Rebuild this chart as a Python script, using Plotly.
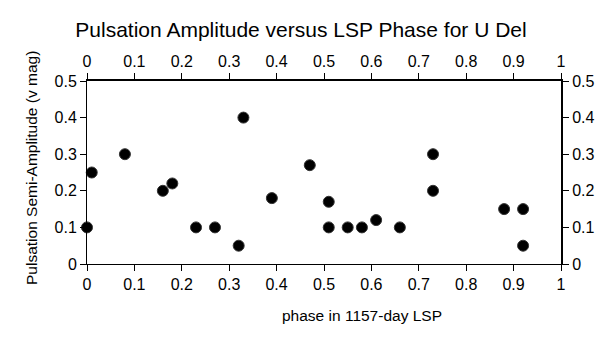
import plotly.graph_objects as go

phase = [0.0, 0.01, 0.08, 0.16, 0.18, 0.23, 0.27, 0.32, 0.33, 0.39, 0.47,
         0.51, 0.51, 0.55, 0.58, 0.61, 0.66, 0.73, 0.73, 0.88, 0.92, 0.92]
amplitude = [0.10, 0.25, 0.30, 0.20, 0.22, 0.10, 0.10, 0.05, 0.40, 0.18, 0.27,
             0.17, 0.10, 0.10, 0.10, 0.12, 0.10, 0.30, 0.20, 0.15, 0.15, 0.05]

font = "Liberation Sans, Arial, sans-serif"

fig = go.Figure()
fig.add_trace(go.Scatter(x=phase, y=amplitude, mode="markers",
                         marker=dict(color="black", size=11,
                                     line=dict(color="#333", width=1)),
                         showlegend=False, cliponaxis=False))
# invisible trace to activate secondary axes
fig.add_trace(go.Scatter(x=phase, y=amplitude, mode="markers", xaxis="x2", yaxis="y2",
                         marker=dict(opacity=0), showlegend=False, hoverinfo="skip"))

common = dict(range=[0, 1], dtick=0.1, tick0=0, ticks="outside", ticklen=6,
              tickcolor="black", showgrid=False, zeroline=False, automargin=False,
              tickfont=dict(size=16, color="black", family=font))
commony = dict(range=[0, 0.5], dtick=0.1, tick0=0, ticks="outside", ticklen=6,
               tickcolor="black", showgrid=False, zeroline=False, automargin=False,
               tickfont=dict(size=16, color="black", family=font))

W, H = 597, 332
L, R, T, B = 79, 44, 73, 76
pw, ph = W - L - R, H - T - B

fig.update_layout(
    width=W, height=H,
    margin=dict(l=L, r=R, t=T, b=B),
    paper_bgcolor="white", plot_bgcolor="white",
    title=dict(text="Pulsation Amplitude versus LSP Phase for U Del",
               x=293 / W, xanchor="center", y=1 - 22 / H, yanchor="middle",
               font=dict(size=21, color="black", family=font)),
    xaxis=dict(**common, showline=True, linecolor="black", linewidth=1),
    xaxis2=dict(**common, overlaying="x", side="top", showline=True,
                linecolor="black", linewidth=2, matches="x"),
    yaxis=dict(**commony, showline=True, linecolor="black", linewidth=1),
    yaxis2=dict(**commony, overlaying="y", side="right", showline=True,
                linecolor="black", linewidth=2, matches="y"),
    annotations=[
        dict(text="phase in 1157-day LSP", xref="paper", yref="paper",
             x=(353.5 - L) / pw, y=(T + ph - 307) / ph, xanchor="center", yanchor="middle",
             showarrow=False, font=dict(size=15.5, color="black", family=font)),
        dict(text="Pulsation Semi-Amplitude (v mag)", xref="paper", yref="paper",
             x=(23 - L) / pw, y=(T + ph - 160) / ph, xanchor="center", yanchor="middle",
             textangle=-90, showarrow=False,
             font=dict(size=15.5, color="black", family=font)),
    ],
)

fig.write_html("out.html")
